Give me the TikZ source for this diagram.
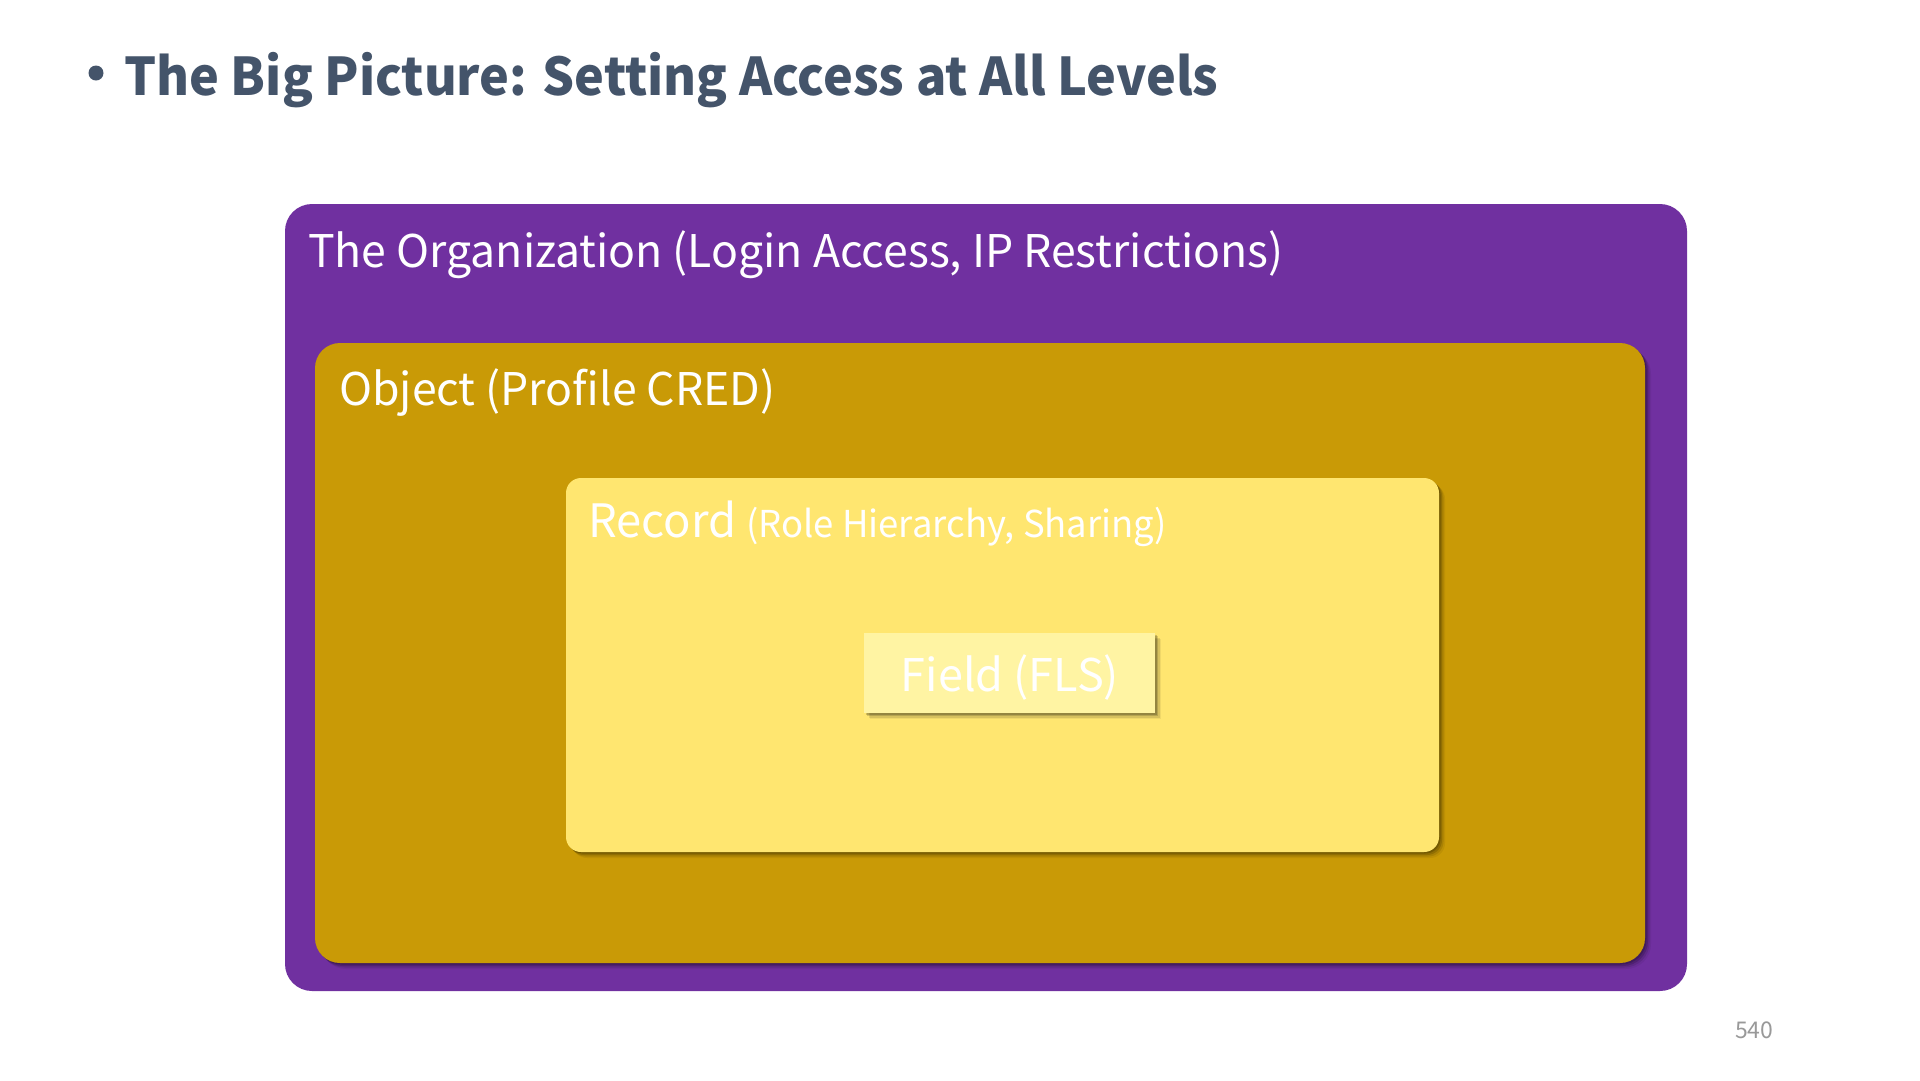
\documentclass[tikz,border=0pt]{standalone}
\usepackage{fontspec}
\setmainfont{Noto Sans CJK SC}
\usetikzlibrary{shadows}
\definecolor{titlecol}{HTML}{44546A}
\definecolor{orgpurple}{HTML}{7030A0}
\definecolor{objgold}{HTML}{C99A06}
\definecolor{recyellow}{HTML}{FFE670}
\definecolor{fieldyellow}{HTML}{FFF4A3}
\definecolor{pagegray}{HTML}{999999}
\tikzset{
  boxshadow/.style={
    drop shadow={shadow xshift=1.5pt, shadow yshift=-1.5pt, opacity=0.18, fill=black},
    drop shadow={shadow xshift=3pt, shadow yshift=-3pt, opacity=0.15, fill=black},
    drop shadow={shadow xshift=4.5pt, shadow yshift=-4.5pt, opacity=0.10, fill=black},
    drop shadow={shadow xshift=6pt, shadow yshift=-6pt, opacity=0.06, fill=black}},
  lbl/.style={anchor=base west, inner sep=0pt, text=white},
}
\begin{document}
\begin{tikzpicture}[x=1pt,y=-1pt]
\useasboundingbox (0,0) rectangle (1920,1080);
\fill[white] (0,0) rectangle (1920,1080);
% title
\fill[titlecol] (96,73) circle (7.5);
\node[anchor=base west, inner sep=0pt, text=titlecol, font=\fontsize{52}{60}\selectfont\bfseries] (title) at (124,95) {\scalebox{0.967}[1]{The Big Picture: Setting Access at All Levels}};
% boxes
\fill[orgpurple, rounded corners=27pt] (285,204) rectangle (1687,991);
\fill[objgold, rounded corners=25pt, boxshadow] (315,343) rectangle (1645,963);
\fill[recyellow, rounded corners=15pt, boxshadow] (566,478) rectangle (1439,852);
\node[fill=fieldyellow, boxshadow, minimum width=291pt, minimum height=80pt, inner sep=0pt] (field) at (1009.5,673) {};
% labels
\node[lbl, font=\fontsize{45}{54}\selectfont] (org) at (308,267) {\scalebox{0.99}[1]{The Organization (Login Access, IP Restrictions)}};
\node[lbl, font=\fontsize{45}{54}\selectfont] (obj) at (339,405) {\scalebox{0.99}[1]{Object (Profile CRED)}};
\node[lbl, font=\fontsize{46}{54}\selectfont] (rec) at (588,537) {\scalebox{0.985}[1]{Record \fontsize{37}{46}\selectfont(Role Hierarchy, Sharing)}};
\node[anchor=base, inner sep=0pt, text=white, font=\fontsize{45}{54}\selectfont] (fieldtxt) at (1010,691) {Field (FLS)};
\node[anchor=base west, inner sep=0pt, text=pagegray, font=\fontsize{23}{28}\selectfont] (page) at (1735,1038) {540};
\end{tikzpicture}
\end{document}
